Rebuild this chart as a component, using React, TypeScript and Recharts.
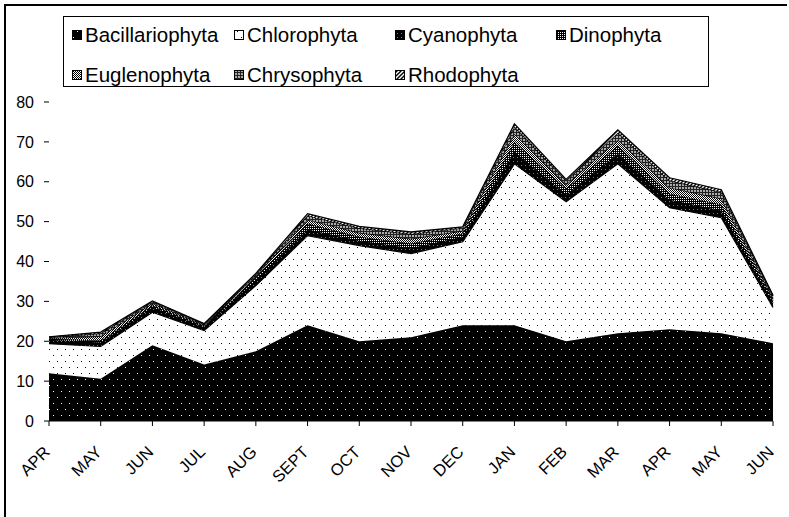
import React from 'react';
import { AreaChart, Area, XAxis, YAxis } from 'recharts';

const months = ['APR', 'MAY', 'JUN', 'JUL', 'AUG', 'SEPT', 'OCT', 'NOV', 'DEC', 'JAN', 'FEB', 'MAR', 'APR', 'MAY', 'JUN'];
const bacillariophyta = [12, 10.6, 19, 14.2, 17.5, 24, 20, 21, 24, 24, 20, 22, 23, 22, 19.5];
const chlorophyta = [7.4, 8.1, 8.3, 8.5, 16.5, 22.5, 24, 21, 21, 40.5, 35, 42.5, 30.5, 29, 9];
const cyanophyta = [1, 1, 1.2, 0.8, 1.3, 1.5, 1.2, 1.3, 1.2, 3, 1.8, 2.5, 2, 1.8, 1];
const dinophyta = [0.2, 0.5, 0.5, 0.3, 0.6, 1.5, 1, 1.2, 0.8, 2.5, 1.5, 2, 1.5, 1.5, 0.7];
const euglenophyta = [0.2, 1, 0.5, 0.3, 0.5, 1, 1, 1.2, 0.7, 2, 1, 1.5, 1.5, 1.5, 0.5];
const chrysophyta = [0.2, 0.8, 0.4, 0.2, 0.4, 1, 1.2, 1.2, 0.7, 1.8, 1, 1.8, 1.8, 1.6, 0.6];
const rhodophyta = [0.1, 0.3, 0.2, 0.1, 0.2, 0.5, 0.4, 0.5, 0.3, 0.7, 0.3, 0.7, 0.7, 0.6, 0.2];
const yTicks = [0, 10, 20, 30, 40, 50, 60, 70, 80];

const seriesNames = ['Bacillariophyta', 'Chlorophyta', 'Cyanophyta', 'Dinophyta', 'Euglenophyta', 'Chrysophyta', 'Rhodophyta'];
const seriesValues = [bacillariophyta, chlorophyta, cyanophyta, dinophyta, euglenophyta, chrysophyta, rhodophyta];
const patternIds = ['p-bac', 'p-chl', 'p-cya', 'p-din', 'p-eug', 'p-chr', 'p-rho'];

const data = months.map((m, i) => {
  const row: Record<string, number> = { i };
  seriesNames.forEach((n, k) => {
    row[n] = seriesValues[k][i];
  });
  return row;
});

const FONT = "Arial, 'Liberation Sans', sans-serif";

const XTick = (props: any) => {
  const { x, y, payload } = props;
  const tx = x + 2;
  const ty = y + 25;
  return (
    <text x={tx} y={ty} transform={`rotate(-45, ${tx}, ${ty})`} textAnchor="end" fontSize={16.5} fontFamily={FONT} fill="#000">
      {months[payload.value]}
    </text>
  );
};

const Patterns = () => (
  <svg width={0} height={0} style={{ position: 'absolute' }}>
    <defs>
      <pattern id="p-bac" width={8} height={12} patternUnits="userSpaceOnUse">
        <rect width={8} height={12} fill="#000" />
        <rect x={1} y={1} width={1} height={1} fill="#fff" />
        <rect x={5} y={7} width={1} height={1} fill="#fff" />
      </pattern>
      <pattern id="p-chl" width={8} height={12} patternUnits="userSpaceOnUse">
        <rect width={8} height={12} fill="#fff" />
        <rect x={1} y={1} width={1} height={1} fill="#000" />
        <rect x={5} y={7} width={1} height={1} fill="#000" />
      </pattern>
      <pattern id="p-cya" width={4} height={4} patternUnits="userSpaceOnUse">
        <rect width={4} height={4} fill="#000" />
        <rect x={1} y={1} width={1} height={1} fill="#777" />
      </pattern>
      <pattern id="p-din" width={2} height={2} patternUnits="userSpaceOnUse">
        <rect width={2} height={2} fill="#000" />
        <rect x={0} y={0} width={1} height={1} fill="#fff" />
      </pattern>
      <pattern id="p-eug" width={2} height={2} patternUnits="userSpaceOnUse">
        <rect width={2} height={2} fill="#fff" />
        <rect x={0} y={0} width={1} height={1} fill="#000" />
        <rect x={1} y={1} width={1} height={1} fill="#000" />
      </pattern>
      <pattern id="p-chr" width={3} height={3} patternUnits="userSpaceOnUse">
        <rect width={3} height={3} fill="#aaa" />
        <rect x={0} y={0} width={3} height={1} fill="#222" />
        <rect x={0} y={0} width={1} height={3} fill="#222" />
      </pattern>
      <pattern id="p-rho" width={4} height={4} patternUnits="userSpaceOnUse">
        <rect width={4} height={4} fill="#fff" />
        <path d="M0,4 L4,0 M-1,1 L1,-1 M3,5 L5,3" stroke="#000" strokeWidth={1.4} />
      </pattern>
    </defs>
  </svg>
);

const legendCols = [72, 234, 395, 556];
const legendRows = [30, 70];

const LegendBox = () => (
  <svg width={789} height={100} style={{ position: 'absolute', left: 0, top: 0 }}>
    <rect x={63.5} y={16.5} width={645} height={70} fill="#fff" stroke="#000" strokeWidth={1} />
    {seriesNames.map((n, k) => {
      const col = k < 4 ? k : k - 4;
      const row = k < 4 ? 0 : 1;
      const mx = legendCols[col];
      const my = legendRows[row];
      return (
        <g key={n}>
          <rect x={mx + 0.5} y={my + 0.5} width={9} height={9} fill={`url(#${patternIds[k]})`} stroke="#000" strokeWidth={1} />
          <text x={mx + 13} y={my + 12} fontSize={20.5} fontFamily={FONT} fill="#000">
            {n}
          </text>
        </g>
      );
    })}
  </svg>
);

export default function App() {
  return (
    <div style={{ position: 'absolute', left: 0, top: 0, width: 789, height: 517, background: '#fff', overflow: 'hidden' }}>
      <Patterns />
      <div style={{ position: 'absolute', left: 4, top: 4, width: 781, height: 520, borderTop: '2px solid #000', borderLeft: '2px solid #000' }} />
      <div style={{ position: 'absolute', left: 0, top: 0 }}>
        <AreaChart width={789} height={517} data={data} margin={{ top: 102, right: 16, bottom: 66, left: 5 }}>
          <XAxis
            dataKey="i"
            type="category"
            interval={0}
            height={30}
            tick={<XTick />}
            tickLine={{ stroke: '#000' }}
            axisLine={{ stroke: '#000' }}
            tickSize={5}
          />
          <YAxis
            width={44}
            domain={[0, 80]}
            ticks={yTicks}
            interval={0}
            axisLine={false}
            tickLine={{ stroke: '#000' }}
            tickSize={5}
            tickMargin={10}
            tick={{ fontSize: 16, fontFamily: FONT, fill: '#000' }}
          />
          {seriesNames.map((n, k) => (
            <Area
              key={n}
              type="linear"
              dataKey={n}
              stackId="1"
              stroke="#000"
              strokeWidth={1.3}
              fill={`url(#${patternIds[k]})`}
              fillOpacity={1}
              isAnimationActive={false}
              dot={false}
              activeDot={false}
            />
          ))}
        </AreaChart>
      </div>
      <LegendBox />
    </div>
  );
}
